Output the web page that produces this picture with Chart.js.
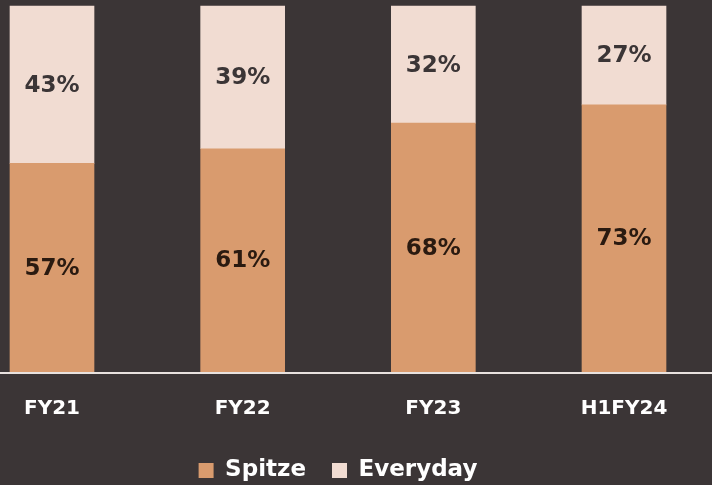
<!DOCTYPE html>
<html>
<head>
<meta charset="utf-8">
<script src="https://cdn.jsdelivr.net/npm/chart.js@4"></script>
<style>
  html, body { margin: 0; padding: 0; background: #3b3536; }
  #wrap { width: 712px; height: 485px; }
</style>
</head>
<body>
<div id="wrap"><canvas id="mixChart"></canvas></div>
<script>
const categories = ['FY21', 'FY22', 'FY23', 'H1FY24'];
const spitzeShare = [57, 61, 68, 73];
const everydayShare = [43, 39, 32, 27];

const FONT = "'DejaVu Sans', sans-serif";

// draws the % labels in the middle of each segment
const segmentLabels = {
  id: 'segmentLabels',
  afterDatasetsDraw(chart) {
    const ctx = chart.ctx;
    ctx.save();
    ctx.font = `700 23px ${FONT}`;
    ctx.textAlign = 'center';
    ctx.textBaseline = 'middle';
    chart.data.datasets.forEach((ds, i) => {
      chart.getDatasetMeta(i).data.forEach((bar, j) => {
        const mid = (bar.y + bar.base) / 2;
        ctx.fillStyle = ds.labelColor;
        ctx.fillText(ds.data[j] + '%', bar.x, mid + 1);
      });
    });
    ctx.restore();
  }
};

// baseline running across the whole width
const baseline = {
  id: 'baseline',
  afterDatasetsDraw(chart) {
    const ctx = chart.ctx;
    const y = chart.chartArea.bottom + 1;
    ctx.save();
    ctx.strokeStyle = '#e8e2df';
    ctx.lineWidth = 2;
    ctx.beginPath();
    ctx.moveTo(0, y);
    ctx.lineTo(chart.width, y);
    ctx.stroke();
    ctx.restore();
  }
};

const ctx = document.getElementById('mixChart').getContext('2d');
new Chart(ctx, {
  type: 'bar',
  data: {
    labels: categories,
    datasets: [
      {
        label: 'Spitze',
        data: spitzeShare,
        backgroundColor: '#d99b6e',
        labelColor: '#2a1a10',
        barThickness: 84,
        clip: false
      },
      {
        label: 'Everyday',
        data: everydayShare,
        backgroundColor: '#f1dcd2',
        labelColor: '#3b3536',
        barThickness: 84,
        clip: false
      }
    ]
  },
  options: {
    responsive: true,
    maintainAspectRatio: false,
    animation: false,
    layout: { padding: { left: 52, right: 88, top: 6, bottom: -7 } },
    scales: {
      x: {
        stacked: true,
        offset: false,
        grid: { display: false },
        border: { display: false },
        afterFit(scale) { scale.height = 61; },
        ticks: {
          color: '#ffffff',
          font: { family: FONT, size: 20, weight: '700' },
          padding: 17,
          maxRotation: 0
        }
      },
      y: {
        stacked: true,
        display: false,
        min: 0,
        max: 100
      }
    },
    plugins: {
      legend: {
        position: 'bottom',
        labels: {
          color: '#ffffff',
          font: { family: FONT, size: 23, weight: '700' },
          boxWidth: 15,
          boxHeight: 15,
          padding: 26,
          useBorderRadius: false
        }
      },
      tooltip: { enabled: false }
    }
  },
  plugins: [segmentLabels, baseline]
});
</script>
</body>
</html>
